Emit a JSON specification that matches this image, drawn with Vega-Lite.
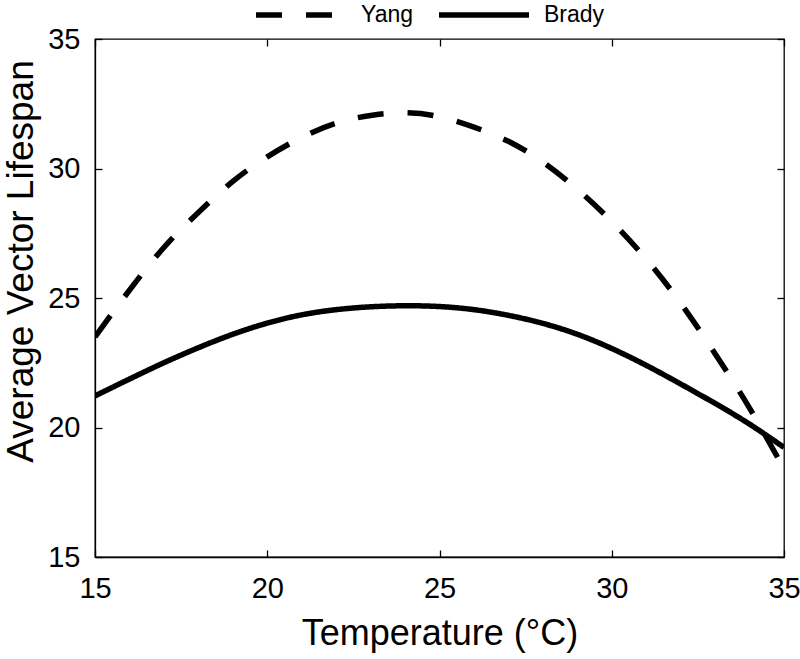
{
  "$schema": "https://vega.github.io/schema/vega-lite/v6.json",
  "width": 689,
  "height": 518,
  "autosize": "none",
  "padding": {"left": 95, "top": 39, "right": 16, "bottom": 102},
  "background": "white",
  "config": {
    "font": "Liberation Sans",
    "view": {"stroke": "black", "strokeWidth": 1.3},
    "axis": {"grid": false, "domainColor": "black", "tickColor": "black", "labelColor": "black", "titleColor": "black", "labelFont": "Liberation Sans", "titleFont": "Liberation Sans", "titleFontWeight": "normal", "labelFontSize": 29, "titleFontSize": 35, "tickSize": -7, "tickWidth": 1.3, "domainWidth": 1.3, "labelFlush": false},
    "legend": {"labelFontSize": 23, "labelFont": "Liberation Sans", "labelColor": "black"}
  },
  "data": {"values": [
    {"T": 15, "L": 23.5, "model": "Yang"},
    {"T": 16, "L": 25.3, "model": "Yang"},
    {"T": 17, "L": 26.95, "model": "Yang"},
    {"T": 18, "L": 28.3, "model": "Yang"},
    {"T": 19, "L": 29.5, "model": "Yang"},
    {"T": 20, "L": 30.45, "model": "Yang"},
    {"T": 21, "L": 31.2, "model": "Yang"},
    {"T": 22, "L": 31.75, "model": "Yang"},
    {"T": 23, "L": 32.05, "model": "Yang"},
    {"T": 24, "L": 32.15, "model": "Yang"},
    {"T": 25, "L": 32.0, "model": "Yang"},
    {"T": 26, "L": 31.6, "model": "Yang"},
    {"T": 27, "L": 31.05, "model": "Yang"},
    {"T": 28, "L": 30.25, "model": "Yang"},
    {"T": 29, "L": 29.2, "model": "Yang"},
    {"T": 30, "L": 27.95, "model": "Yang"},
    {"T": 31, "L": 26.5, "model": "Yang"},
    {"T": 32, "L": 24.8, "model": "Yang"},
    {"T": 33, "L": 22.85, "model": "Yang"},
    {"T": 34, "L": 20.75, "model": "Yang"},
    {"T": 35, "L": 18.4, "model": "Yang"},
    {"T": 15, "L": 21.22, "model": "Brady"},
    {"T": 16, "L": 21.87, "model": "Brady"},
    {"T": 17, "L": 22.5, "model": "Brady"},
    {"T": 18, "L": 23.08, "model": "Brady"},
    {"T": 19, "L": 23.6, "model": "Brady"},
    {"T": 20, "L": 24.03, "model": "Brady"},
    {"T": 21, "L": 24.35, "model": "Brady"},
    {"T": 22, "L": 24.55, "model": "Brady"},
    {"T": 23, "L": 24.66, "model": "Brady"},
    {"T": 24, "L": 24.7, "model": "Brady"},
    {"T": 25, "L": 24.67, "model": "Brady"},
    {"T": 26, "L": 24.55, "model": "Brady"},
    {"T": 27, "L": 24.33, "model": "Brady"},
    {"T": 28, "L": 24.02, "model": "Brady"},
    {"T": 29, "L": 23.6, "model": "Brady"},
    {"T": 30, "L": 23.05, "model": "Brady"},
    {"T": 31, "L": 22.4, "model": "Brady"},
    {"T": 32, "L": 21.68, "model": "Brady"},
    {"T": 33, "L": 20.93, "model": "Brady"},
    {"T": 34, "L": 20.13, "model": "Brady"},
    {"T": 35, "L": 19.23, "model": "Brady"}
  ]},
  "layer": [
    {
      "mark": {"type": "line", "color": "black", "strokeWidth": 5.5, "interpolate": "natural", "clip": true},
      "encoding": {
        "x": {"field": "T", "type": "quantitative", "scale": {"domain": [15, 35], "nice": false}, "axis": {"values": [15, 20, 25, 30, 35], "title": "Temperature (°C)", "titleFontSize": 36, "labelPadding": 24, "titlePadding": 13}},
        "y": {"field": "L", "type": "quantitative", "scale": {"domain": [15, 35], "nice": false}, "axis": {"values": [15, 20, 25, 30, 35], "title": "Average Vector Lifespan", "titleFontSize": 37, "labelPadding": 22, "titleX": -74, "titleY": 222, "titleAlign": "center", "titleBaseline": "middle", "titleAngle": -90}},
        "strokeDash": {"field": "model", "type": "nominal", "scale": {"domain": ["Yang", "Brady"], "range": [[26, 24], [1, 0]]}, "legend": {"orient": "none", "legendX": 158, "legendY": -72, "padding": 0, "direction": "horizontal", "title": null, "symbolType": "stroke", "symbolSize": 8100, "symbolStrokeWidth": 5.5, "symbolStrokeColor": "black", "labelFontSize": 23, "labelOffset": 12, "columnPadding": 14}}
      }
    },
    {
      "mark": {"type": "line", "opacity": 0},
      "encoding": {
        "x": {"field": "T", "type": "quantitative", "scale": {"domain": [15, 35], "nice": false}, "axis": {"orient": "top", "values": [15, 20, 25, 30, 35], "labels": false, "title": null, "domain": false}},
        "y": {"field": "L", "type": "quantitative", "scale": {"domain": [15, 35], "nice": false}, "axis": {"orient": "right", "values": [15, 20, 25, 30, 35], "labels": false, "title": null, "domain": false}}
      }
    }
  ],
  "resolve": {"axis": {"x": "independent", "y": "independent"}}
}
